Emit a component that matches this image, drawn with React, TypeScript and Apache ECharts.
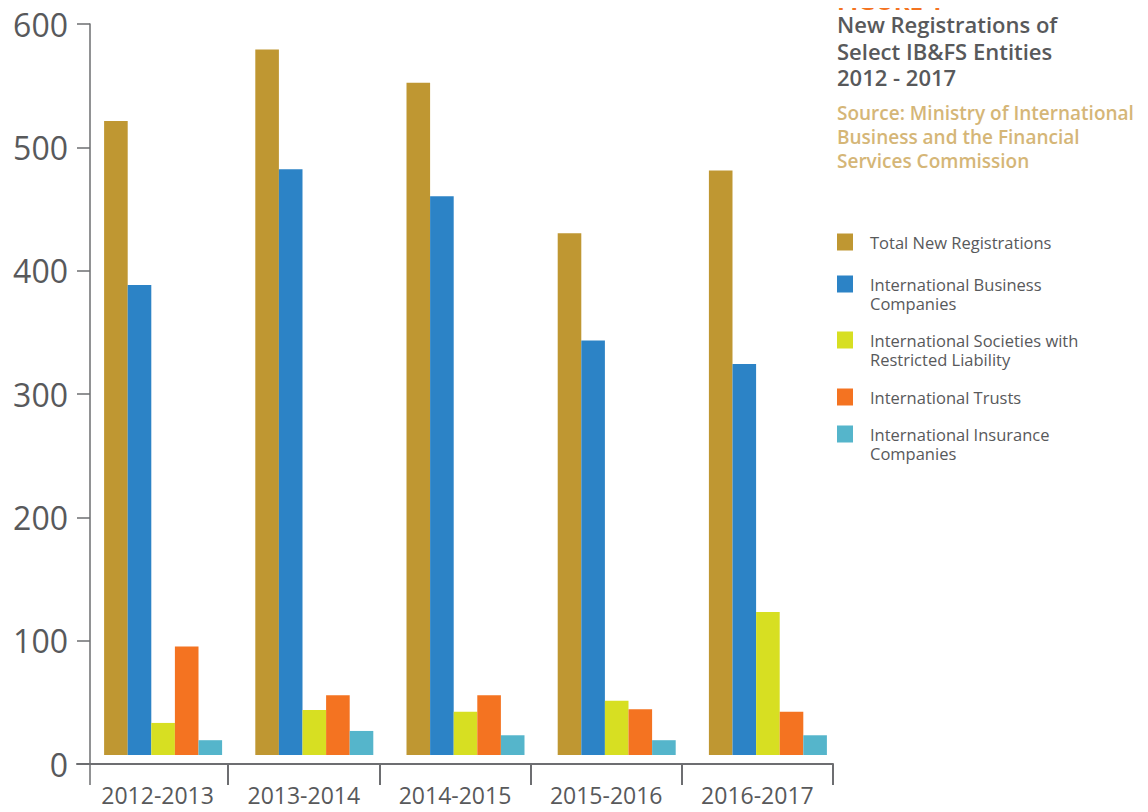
import React, { useEffect, useRef } from "react";
import * as echarts from "echarts";

const categories = ["2012-2013", "2013-2014", "2014-2015", "2015-2016", "2016-2017"];
const seriesNames = [
  "Total New Registrations",
  "International Business Companies",
  "International Societies with Restricted Liability",
  "International Trusts",
  "International Insurance Companies",
];
const legendLines = [
  ["Total New Registrations"],
  ["International Business", "Companies"],
  ["International Societies with", "Restricted Liability"],
  ["International Trusts"],
  ["International Insurance", "Companies"],
];
const totalNew = [514, 572, 545, 423, 474];
const businessCompanies = [381, 475, 453, 336, 317];
const societies = [26, 36.5, 35, 44, 116];
const trusts = [88, 48.5, 48.5, 37, 35];
const insurance = [12, 19.5, 16, 12, 16];
const colors = ["#bf9732", "#2c83c6", "#d7df22", "#f47321", "#55b5cb"];
const yTicks = [0, 100, 200, 300, 400, 500, 600];
const figureLabel = "FIGURE 1";
const titleLines = ["New Registrations of", "Select IB&FS Entities", "2012 - 2017"];
const sourceLines = ["Source: Ministry of International", "Business and the Financial", "Services Commission"];

const FONT = "'Open Sans', sans-serif";

export default function App() {
  const ref = useRef<HTMLDivElement>(null);
  useEffect(() => {
    if (!ref.current) return;
    const chart = echarts.init(ref.current, null, { renderer: "svg" });
    const values = [totalNew, businessCompanies, societies, trusts, insurance];
    const legendCenters = [242, 284, 340, 397, 434];
    const legends = seriesNames.map((name, i) => {
      const lines = legendLines[i];
      const twoLine = lines.length > 1;
      return {
        orient: "vertical",
        left: 837,
        top: legendCenters[i] - 9.5,
        padding: 0,
        itemWidth: 16,
        itemHeight: twoLine ? 36 : 17,
        icon: twoLine ? "path://M0,0L16,0L16,17L0,17Z M0,36L16,36" : "rect",
        selectedMode: false,
        data: [name],
        formatter: () => lines.join("\n"),
        textStyle: {
          fontFamily: FONT,
          fontSize: 16.5,
          color: "#58595b",
          lineHeight: 19,
          padding: [0, 0, 0, 12],
        },
      };
    });
    chart.setOption({
      animation: false,
      backgroundColor: "#ffffff",
      grid: [
        { left: 77, right: 315, top: 24, bottom: 48 },
        { left: 87.5, right: 304.5, top: 15, bottom: 57 },
      ],
      legend: legends,
      xAxis: [
        {
          type: "category",
          gridIndex: 0,
          data: categories,
          boundaryGap: true,
          axisLine: { lineStyle: { color: "#6d6e71", width: 2 } },
          axisTick: {
            show: true,
            length: 21,
            interval: (index: number) => index !== 0,
            lineStyle: { color: "#6d6e71", width: 2 },
          },
          axisLabel: {
            interval: 0,
            margin: 19,
            fontFamily: FONT,
            fontSize: 23,
            color: "#58595b",
            formatter: (v: string, i: number) => (i === 0 ? "{a|" + v + "}" : v),
            rich: {
              a: { fontFamily: FONT, fontSize: 23, color: "#58595b", padding: [0, 0, 0, 10] },
            },
          },
        },
        {
          type: "category",
          gridIndex: 1,
          data: categories,
          show: false,
        },
      ],
      yAxis: [
        {
          type: "value",
          gridIndex: 0,
          min: yTicks[0],
          max: yTicks[yTicks.length - 1],
          interval: 100,
          offset: -13,
          axisLine: { show: true, lineStyle: { color: "#6d6e71", width: 1.5 } },
          axisTick: { show: true, length: 13, lineStyle: { color: "#6d6e71", width: 1.5 } },
          splitLine: { show: false },
          axisLabel: {
            margin: 22,
            fontFamily: FONT,
            fontSize: 32,
            color: "#58595b",
          },
        },
        {
          type: "value",
          gridIndex: 1,
          min: 0,
          max: 600,
          show: false,
          splitLine: { show: false },
        },
      ],
      series: seriesNames.map((name, i) => ({
        name,
        type: "bar",
        xAxisIndex: 1,
        yAxisIndex: 1,
        data: values[i],
        barWidth: 23.6,
        barGap: "0%",
        itemStyle: { color: colors[i] },
      })),
      graphic: [
        {
          type: "line",
          shape: { x1: 90, y1: 764, x2: 90, y2: 785 },
          style: { stroke: "#6d6e71", lineWidth: 1.5 },
        },
        {
          type: "text",
          x: 837,
          y: 0.5,
          style: {
            text: figureLabel,
            fontFamily: FONT,
            fontWeight: 700,
            fontSize: 24,
            verticalAlign: "middle",
            fill: "#f47321",
          },
        },
        {
          type: "text",
          left: 837,
          top: 11,
          style: {
            text: titleLines.join("\n"),
            fontFamily: FONT,
            fontWeight: 600,
            fontSize: 22,
            lineHeight: 26.5,
            fill: "#58595b",
          },
        },
        {
          type: "text",
          left: 837,
          top: 101,
          style: {
            text: sourceLines.join("\n"),
            fontFamily: FONT,
            fontWeight: 600,
            fontSize: 19,
            lineHeight: 24,
            fill: "#d5b677",
          },
        },
      ],
    });
    return () => chart.dispose();
  }, []);
  return <div ref={ref} style={{ width: 1148, height: 812, margin: -8 }} />;
}
